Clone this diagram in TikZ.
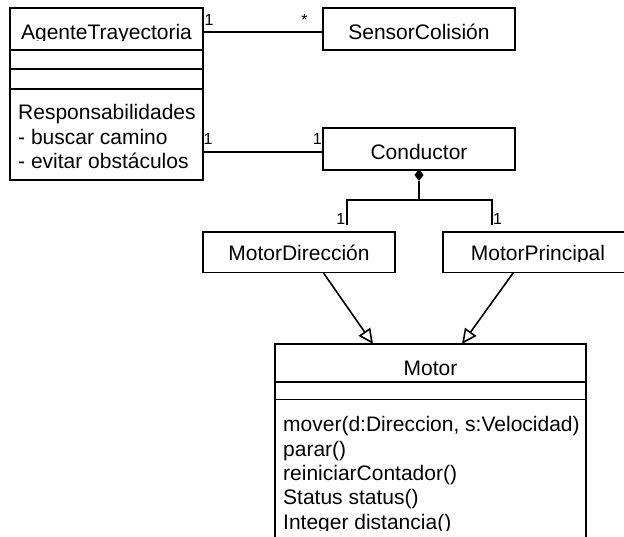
\documentclass[tikz,border=0pt]{standalone}
\usepackage{fontspec}
\setmainfont{Liberation Sans}
\usetikzlibrary{arrows.meta}
\tikzset{
  box/.style={draw, line width=1.6pt, inner sep=0pt, outer sep=0pt, anchor=north west},
  divider/.style={line width=1.6pt},
  thickdivider/.style={line width=2.4pt},
  txt/.style={inner sep=0pt, font=\fontsize{21}{24.4}\selectfont},
  mult/.style={inner sep=0pt, font=\fontsize{16}{19}\selectfont},
  link/.style={line width=1.6pt},
  inherit/.style={link, -{Triangle[open, length=15pt, width=14pt]}},
}
\begin{document}
\begin{tikzpicture}[x=1pt,y=-1pt]
\clip (0,0) rectangle (624,537);
\fill[white] (0,0) rectangle (624,537);

% ---- AgenteTrayectoria (name, two empty compartments, responsibilities)
\node[box, minimum width=193pt, minimum height=171.7pt] (agente) at (10,8.3) {};
\draw[thickdivider] (10,50) -- (203,50);
\draw[divider] (10,69) -- (203,69);
\draw[thickdivider] (10,89) -- (203,89);
\begin{scope}
  \clip (10,8.3) rectangle (203,41);
  \node[txt, anchor=base] (agenteName) at (106.5,39.5) {AgenteTrayectoria};
\end{scope}
\node[txt, anchor=base west] (resp0) at (18,120) {Responsabilidades};
\node[txt, anchor=base west] (resp1) at (18,144.3) {- buscar camino};
\node[txt, anchor=base west] (resp2) at (18,168.5) {- evitar obstáculos};

% ---- SensorColisión
\node[box, minimum width=192pt, minimum height=41.7pt] (sensor) at (323,8.3) {};
\node[txt, anchor=base] (sensorName) at (sensor.center |- 0,39.4) {SensorColisión};

% ---- Conductor
\node[box, minimum width=192pt, minimum height=41.7pt] (conductor) at (323,128.3) {};
\node[txt, anchor=base] (conductorName) at (conductor.center |- 0,159.4) {Conductor};

% ---- MotorDirección
\node[box, minimum width=192pt, minimum height=40.7pt] (mdir) at (203,232) {};
\node[txt, anchor=base] (mdirName) at (mdir.center |- 0,261) {MotorDirección};

% ---- MotorPrincipal
\node[box, minimum width=190pt, minimum height=40.7pt] (mprin) at (443,232) {};
\begin{scope}
  \clip (443,232) rectangle (633,262);
  \node[txt, anchor=base] (mprinName) at (538,260.5) {MotorPrincipal};
\end{scope}

% ---- Motor
\node[box, minimum width=311pt, minimum height=216pt] (motor) at (275,344) {};
\draw[divider] (275,381.7) -- (586,381.7);
\draw[divider] (275,399.5) -- (586,399.5);
\node[txt, anchor=base] (motorName) at (motor.center |- 0,375) {Motor};
\node[txt, anchor=base west] (op1) at (283,431.7) {mover(d:Direccion, s:Velocidad)};
\node[txt, anchor=base west] (op2) at (283,456.1) {parar()};
\node[txt, anchor=base west] (op3) at (283,480.5) {reiniciarContador()};
\node[txt, anchor=base west] (op4) at (283,504.9) {Status status()};
\begin{scope}
  \clip (276,500) rectangle (585,530.5);
  \node[txt, anchor=base west] (op5) at (283,529.3) {Integer distancia()};
\end{scope}

% ---- associations
\draw[link] (agente.east |- 0,32.3) -- (sensor.west |- 0,32.3);
\node[mult, anchor=base west] (m1) at (204.5,26) {1};
\node[mult, anchor=base] (m2) at (304.5,26) {*};

\draw[link] (agente.east |- 0,152.3) -- (conductor.west |- 0,152.3);
\node[mult, anchor=base west] (m3) at (203.5,145) {1};
\node[mult, anchor=base east] (m4) at (322,145) {1};

% ---- composition Conductor <>-- MotorDirección / MotorPrincipal
\coordinate (dtop) at (419,169);
\coordinate (dbot) at (419,181);
\coordinate (fork) at (419,200);
\coordinate (forkL) at (347,200);
\coordinate (forkR) at (492,200);
\coordinate (endL) at (347,225);
\coordinate (endR) at (492,225);
\fill (dtop) -- (423.5,175) -- (dbot) -- (414.5,175) -- cycle;
\draw[link] (dbot) -- (fork);
\draw[link] (endL) -- (forkL) -- (forkR) -- (endR);
\node[mult, anchor=base east] (m5) at (345.5,224.5) {1};
\node[mult, anchor=base west] (m6) at (493,224.5) {1};

% ---- generalization to Motor
\draw[inherit] (mdir.south -| 323.3,0) -- (motor.north -| 373,0);
\draw[inherit] (mprin.south -| 513.3,0) -- (motor.north -| 462,0);
\end{tikzpicture}
\end{document}
